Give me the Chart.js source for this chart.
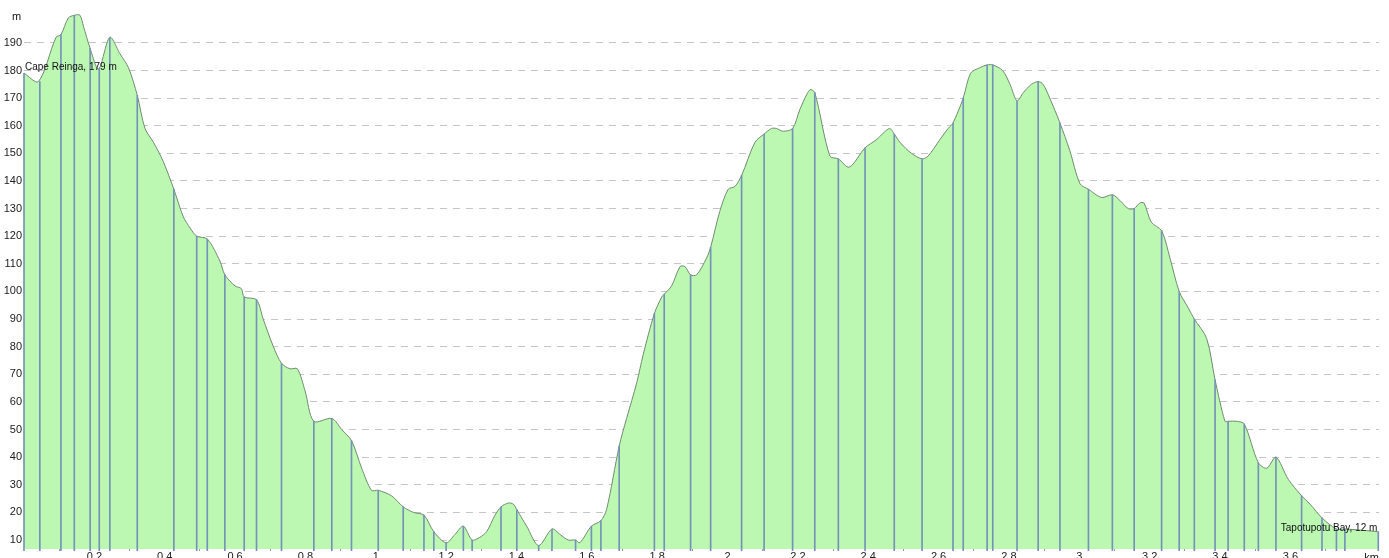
<!DOCTYPE html>
<html>
<head>
<meta charset="utf-8">
<title>Cape Reinga - Tapotupotu Bay</title>
<script src="https://cdn.jsdelivr.net/npm/chart.js@4.4.1/dist/chart.umd.min.js"></script>
<style>
    html, body { margin: 0; padding: 0; background: #fff; }
    #wrap { width: 1389px; height: 558px; position: relative; }
</style>
</head>
<body>
<div id="wrap"><canvas id="profileChart"></canvas></div>
<script>
// =====================
// Данные профиля
// =====================
const distKm = [
    0.000, 0.041, 0.091, 0.105, 0.126, 0.143, 0.159, 0.169, 0.188, 0.212,
    0.244, 0.273, 0.297, 0.322, 0.344, 0.368, 0.396, 0.426, 0.453, 0.472,
    0.491, 0.521, 0.557, 0.571, 0.600, 0.618, 0.626, 0.661, 0.680, 0.709,
    0.732, 0.756, 0.777, 0.799, 0.824, 0.875, 0.903, 0.931, 0.960, 0.988,
    1.007, 1.045, 1.078, 1.107, 1.137, 1.165, 1.200, 1.225, 1.249, 1.274,
    1.296, 1.315, 1.339, 1.356, 1.377, 1.391, 1.401, 1.429, 1.463, 1.501,
    1.524, 1.547, 1.568, 1.580, 1.613, 1.640, 1.656, 1.692, 1.713, 1.742,
    1.760, 1.792, 1.813, 1.820, 1.841, 1.865, 1.879, 1.895, 1.912, 1.940,
    1.952, 1.978, 2.002, 2.021, 2.040, 2.078, 2.104, 2.125, 2.139, 2.158,
    2.185, 2.206, 2.234, 2.248, 2.291, 2.315, 2.346, 2.391, 2.424, 2.460,
    2.474, 2.490, 2.523, 2.553, 2.570, 2.604, 2.627, 2.641, 2.670, 2.691,
    2.717, 2.738, 2.754, 2.782, 2.803, 2.823, 2.841, 2.864, 2.883, 2.897,
    2.916, 2.945, 2.973, 3.002, 3.026, 3.063, 3.094, 3.115, 3.139, 3.156,
    3.172, 3.184, 3.205, 3.234, 3.258, 3.284, 3.310, 3.327, 3.362, 3.386,
    3.414, 3.423, 3.447, 3.469, 3.509, 3.533, 3.559, 3.594, 3.632, 3.656,
    3.690, 3.731, 3.755, 3.807, 3.850
];
const heightM = [
    179, 176, 192, 193, 199, 200, 200, 196, 188, 180.5,
    192, 186, 181, 171, 159, 154, 147, 137, 127, 123,
    120, 119, 111, 106, 102, 101, 98, 97, 90, 80,
    74, 72, 72, 64, 53, 54, 50, 46, 36, 28,
    28, 26, 22, 20, 19, 13, 9, 12, 15, 10,
    11, 13, 19, 22, 23.4, 23, 21, 15, 8, 14,
    12, 10, 10, 9, 15, 17, 21, 44, 54, 67,
    77, 92, 98, 99, 102, 109, 109, 106, 106, 112,
    116, 129, 137, 138, 142, 154, 157, 159, 159, 158,
    159, 166, 173, 172, 149, 148, 145, 152, 155, 159,
    157, 154, 150, 148, 149, 155, 159, 161, 170, 179,
    181, 182, 182, 180, 175, 169, 172, 175, 176, 175,
    170, 161, 151, 139, 137, 134, 135, 133, 130, 130,
    132, 132, 125, 122, 112, 100, 94, 90, 83, 68,
    53, 53, 53, 52, 38, 36, 40, 32, 26, 23,
    18, 14, 14, 13.5, 13
];

// точки трека (синие вертикальные линии)
const markKm = [
    0.000, 0.045, 0.105, 0.143, 0.188, 0.214, 0.244, 0.322, 0.426, 0.491,
    0.521, 0.571, 0.626, 0.661, 0.732, 0.824, 0.875, 0.931, 1.007, 1.078,
    1.137, 1.165, 1.200, 1.249, 1.274, 1.356, 1.401, 1.463, 1.501, 1.568,
    1.613, 1.640, 1.692, 1.792, 1.820, 1.895, 1.952, 2.040, 2.104, 2.185,
    2.248, 2.315, 2.391, 2.474, 2.553, 2.641, 2.670, 2.738, 2.754, 2.823,
    2.883, 2.945, 3.026, 3.094, 3.156, 3.234, 3.284, 3.327, 3.386, 3.423,
    3.469, 3.509, 3.559, 3.632, 3.690, 3.731, 3.755, 3.850
];
const markM = [
    179, 176, 193, 200, 188, 181, 192, 171, 137, 120,
    119, 106, 98, 97, 74, 53, 54, 46, 28, 22,
    19, 13, 9, 15, 10, 22, 21, 8, 14, 10,
    15, 17, 44, 92, 99, 106, 116, 142, 157, 159,
    172, 148, 152, 157, 148, 161, 170, 182, 182, 169,
    176, 161, 137, 135, 130, 122, 100, 90, 68, 53,
    52, 38, 40, 26, 18, 14, 14, 13
];

const yTicks = [10, 20, 30, 40, 50, 60, 70, 80, 90, 100, 110, 120, 130, 140, 150, 160, 170, 180, 190];
const xTicks = [0.2, 0.4, 0.6, 0.8, 1, 1.2, 1.4, 1.6, 1.8, 2, 2.2, 2.4, 2.6, 2.8, 3, 3.2, 3.4, 3.6];

const startLabel = "Cape Reinga, 179 m";
const endLabel = "Tapotupotu Bay, 12 m";
const yUnit = "m";
const xUnit = "km";

const FONT = "'Liberation Sans', Arial, sans-serif";

// =====================
// Подписи начала/конца и единицы осей
// =====================
const profileLabels = {
    id: "profileLabels",
    afterDraw(chart) {
        const ctx = chart.ctx;
        const sx = chart.scales.x;
        const sy = chart.scales.y;
        const last = distKm.length - 1;
        ctx.save();
        ctx.fillStyle = "#111";

        ctx.font = "10px " + FONT;
        ctx.textBaseline = "alphabetic";
        ctx.textAlign = "left";
        ctx.fillText(startLabel, sx.getPixelForValue(distKm[0]) + 1, sy.getPixelForValue(heightM[0]) - 3);
        ctx.textAlign = "right";
        ctx.fillText(endLabel, sx.getPixelForValue(distKm[last]) - 1, sy.getPixelForValue(heightM[last]) - 1);

        ctx.font = "11px " + FONT;
        ctx.textBaseline = "top";
        ctx.textAlign = "left";
        ctx.fillText(yUnit, 12, 11);
        ctx.textAlign = "right";
        ctx.fillText(xUnit, chart.chartArea.right, chart.chartArea.bottom + 3);
        ctx.restore();
    }
};

// =====================
// График
// =====================
const profileCtx = document.getElementById("profileChart");

new Chart(profileCtx, {
    type: "line",
    data: {
        datasets: [
            {
                type: "bar",
                data: markKm.map((d, i) => ({ x: d, y: markM[i] })),
                backgroundColor: "#7593b8",
                barThickness: 1,
                borderWidth: 0,
                order: 1,
                clip: 2
            },
            {
                type: "line",
                data: distKm.map((d, i) => ({ x: d, y: heightM[i] })),
                borderColor: "#6f8c6f",
                borderWidth: 1,
                backgroundColor: "#bdf8b3",
                fill: "start",
                tension: 0.3,
                pointRadius: 0,
                order: 2
            }
        ]
    },
    options: {
        responsive: true,
        maintainAspectRatio: false,
        animation: false,
        layout: { padding: { top: 5, right: 10, left: 0, bottom: 0 } },
        plugins: {
            legend: { display: false },
            tooltip: { enabled: false }
        },
        scales: {
            x: {
                type: "linear",
                min: 0,
                max: 3.852,
                offset: false,
                border: { display: false },
                grid: { drawOnChartArea: false, tickLength: 2, color: "#999" },
                afterBuildTicks: axis => { axis.ticks = xTicks.map(v => ({ value: v })); },
                afterFit: axis => { axis.height = 9; },
                ticks: {
                    padding: 1,
                    maxRotation: 0,
                    autoSkip: false,
                    color: "#222",
                    font: { family: FONT, size: 11, lineHeight: 0.9 },
                    callback: v => String(v)
                }
            },
            y: {
                min: 6.75,
                max: 203,
                z: 1,
                border: { display: false, dash: [7, 6] },
                grid: {
                    color: "rgba(140,140,140,0.5)",
                    drawTicks: false
                },
                afterBuildTicks: axis => { axis.ticks = yTicks.map(v => ({ value: v })); },
                afterFit: axis => { axis.width = 24; },
                ticks: {
                    padding: 2,
                    color: "#222",
                    font: { family: FONT, size: 11, lineHeight: 0.9 }
                }
            }
        }
    },
    plugins: [profileLabels]
});
</script>
</body>
</html>
